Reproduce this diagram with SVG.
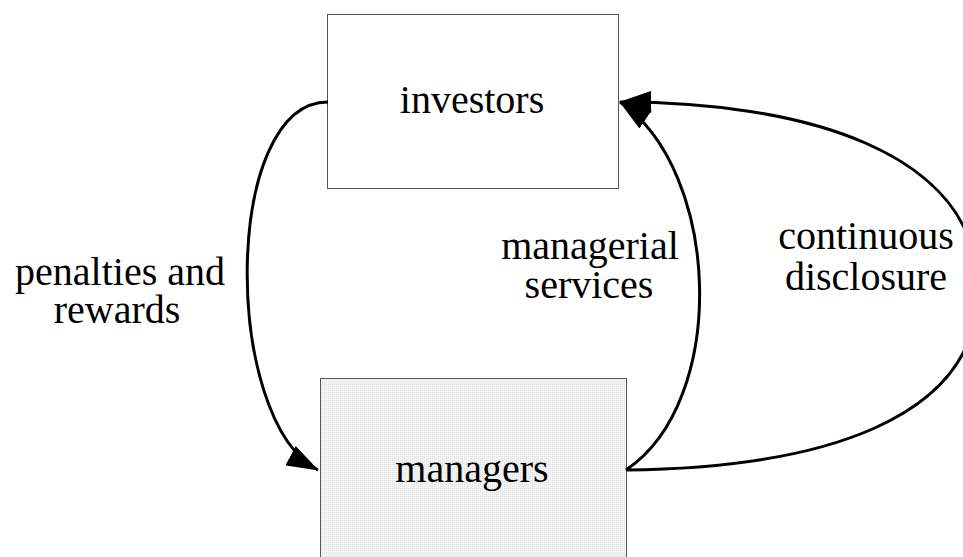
<svg xmlns="http://www.w3.org/2000/svg" width="963" height="557" viewBox="0 0 963 557">
<style>
.lbl{font-size:40px;fill:#000;text-anchor:middle}
.box{stroke:#555;stroke-width:1}
.edge{fill:none;stroke:#000;stroke-width:3}
</style>
<defs>
<marker id="ah" markerUnits="userSpaceOnUse" viewBox="0 0 32 22" refX="31" refY="11" markerWidth="32" markerHeight="22" orient="auto">
<path d="M0,0 L32,11 L0,22 z" fill="#000"/>
</marker>
<pattern id="dots" width="2" height="2" patternUnits="userSpaceOnUse">
<rect width="2" height="2" fill="#f4f4f4"/>
<rect width="1" height="1" fill="#e2e2e2"/>
</pattern>
</defs>
<rect width="963" height="557" fill="#fff"/>
<g font-family="'Liberation Serif', Tinos, 'Times New Roman', 'DejaVu Serif', serif">
<g id="investors">
<rect class="box" x="327.5" y="14.5" width="291" height="174" fill="#fff"/>
<text class="lbl" x="472" y="113">investors</text>
</g>
<g id="managers">
<rect class="box" x="320.5" y="378.5" width="306" height="190" fill="url(#dots)" stroke="#777"/>
<text class="lbl" x="472" y="482">managers</text>
</g>
<g id="connectors">
<path class="edge" d="M328,102 C222,102 222,420 318,470" marker-end="url(#ah)"/>
<path class="edge" d="M626,470 C730,400 720,170 620,102" marker-end="url(#ah)"/>
<path class="edge" d="M626,470 C820,468 978,420 978,290 C978,150 800,102 620,102" marker-end="url(#ah)"/>
</g>
<g id="labels">
<text class="lbl" x="120" y="285">penalties and</text>
<text class="lbl" x="117" y="323">rewards</text>
<text class="lbl" x="590" y="259">managerial</text>
<text class="lbl" x="589" y="298">services</text>
<text class="lbl" x="866" y="249">continuous</text>
<text class="lbl" x="866" y="290">disclosure</text>
</g>
</g>
</svg>
